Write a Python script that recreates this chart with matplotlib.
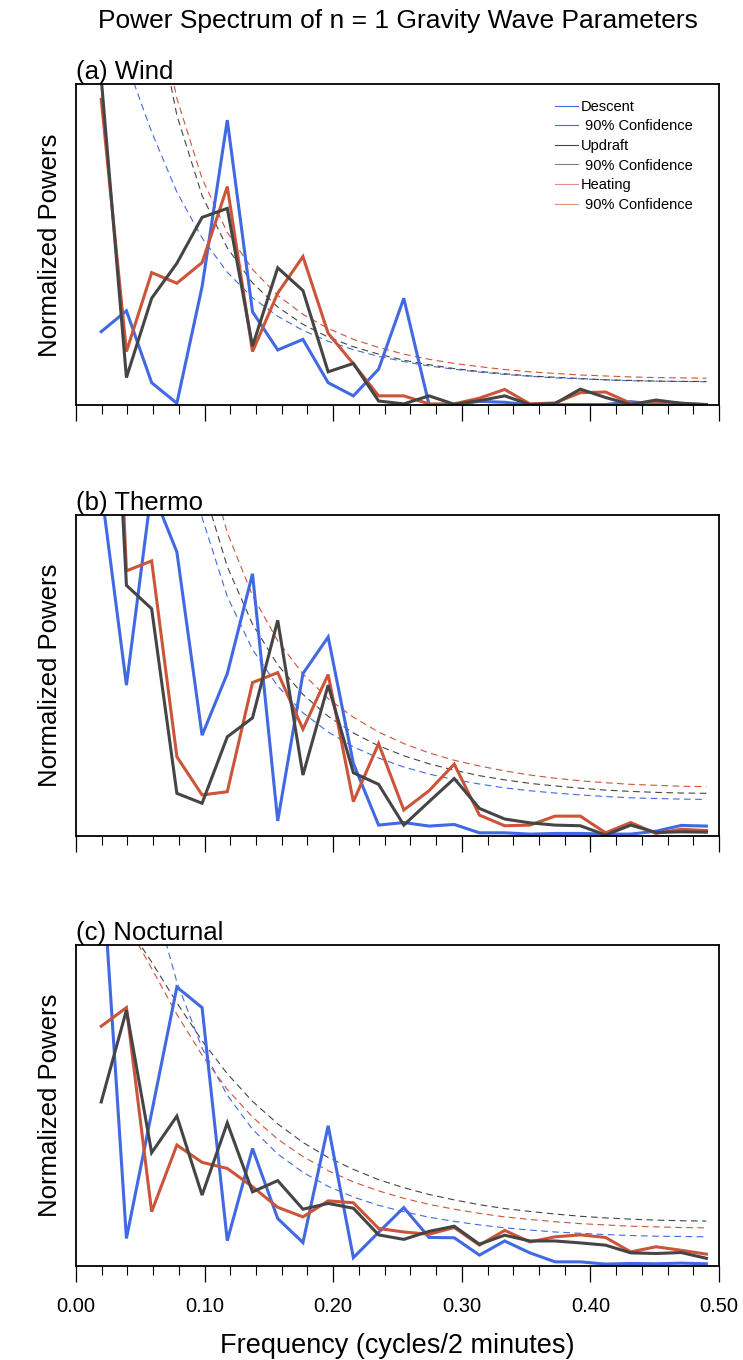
import numpy as np
import matplotlib
matplotlib.use("Agg")
import matplotlib.pyplot as plt
from matplotlib.lines import Line2D
from matplotlib.ticker import MultipleLocator

plt.rcParams['font.family'] = ['Liberation Sans', 'DejaVu Sans']

# spectral estimates at k/51, k = 1..25
freq = np.arange(1, 26) / 51.0

# (a) Wind
wind_descent = [0.230, 0.295, 0.071, 0.007, 0.370, 0.889, 0.292, 0.173, 0.206, 0.071, 0.030, 0.113, 0.334,
                0.003, 0.003, 0.013, 0.010, 0.002, 0.003, 0.003, 0.003, 0.012, 0.004, 0.002, 0.002]
wind_updraft = [1.02, 0.087, 0.334, 0.443, 0.586, 0.614, 0.185, 0.429, 0.358, 0.105, 0.131, 0.014, 0.005,
                0.030, 0.004, 0.015, 0.030, 0.003, 0.006, 0.051, 0.025, 0.003, 0.017, 0.007, 0.003]
wind_heating = [0.954, 0.168, 0.414, 0.381, 0.445, 0.682, 0.168, 0.350, 0.464, 0.225, 0.130, 0.030, 0.030,
                0.005, 0.005, 0.023, 0.050, 0.005, 0.008, 0.040, 0.042, 0.007, 0.010, 0.007, 0.002]
wind_descent_ci = [1.262, 1.069, 0.852, 0.665, 0.522, 0.415, 0.336, 0.278, 0.234, 0.200, 0.174, 0.153, 0.137,
                   0.123, 0.113, 0.104, 0.097, 0.091, 0.086, 0.083, 0.080, 0.077, 0.076, 0.075, 0.074]
wind_updraft_ci = [2.650, 1.906, 1.300, 0.904, 0.654, 0.491, 0.382, 0.307, 0.253, 0.213, 0.183, 0.160, 0.141,
                   0.127, 0.115, 0.106, 0.099, 0.092, 0.088, 0.084, 0.080, 0.078, 0.076, 0.075, 0.075]
wind_heating_ci = [2.440, 1.856, 1.331, 0.957, 0.707, 0.539, 0.424, 0.343, 0.284, 0.240, 0.206, 0.181, 0.160,
                   0.144, 0.131, 0.121, 0.112, 0.105, 0.100, 0.095, 0.092, 0.089, 0.087, 0.086, 0.085]

# (b) Thermo
thermo_descent = [1.08, 0.469, 1.08, 0.884, 0.313, 0.505, 0.816, 0.046, 0.505, 0.619, 0.225, 0.033, 0.041,
                  0.030, 0.035, 0.009, 0.009, 0.005, 0.007, 0.007, 0.005, 0.005, 0.014, 0.032, 0.030]
thermo_updraft = [2.30, 0.780, 0.707, 0.132, 0.101, 0.308, 0.367, 0.671, 0.189, 0.469, 0.196, 0.160, 0.033,
                  0.106, 0.178, 0.085, 0.052, 0.040, 0.033, 0.031, 0.002, 0.033, 0.010, 0.012, 0.011]
thermo_heating = [2.60, 0.825, 0.856, 0.246, 0.127, 0.137, 0.477, 0.508, 0.332, 0.502, 0.106, 0.287, 0.080,
                  0.140, 0.223, 0.064, 0.031, 0.033, 0.061, 0.061, 0.009, 0.041, 0.007, 0.020, 0.016]
thermo_descent_ci = [4.020, 2.890, 1.972, 1.372, 0.991, 0.745, 0.580, 0.466, 0.383, 0.323, 0.277, 0.242, 0.214,
                     0.192, 0.175, 0.161, 0.149, 0.140, 0.133, 0.127, 0.122, 0.118, 0.116, 0.114, 0.113]
thermo_updraft_ci = [3.790, 2.880, 2.067, 1.486, 1.098, 0.838, 0.659, 0.532, 0.440, 0.372, 0.320, 0.280, 0.249,
                     0.224, 0.204, 0.187, 0.174, 0.163, 0.155, 0.148, 0.142, 0.138, 0.135, 0.133, 0.132]
thermo_heating_ci = [3.830, 3.010, 2.223, 1.634, 1.226, 0.944, 0.748, 0.607, 0.504, 0.427, 0.369, 0.323, 0.287,
                     0.258, 0.235, 0.217, 0.202, 0.189, 0.179, 0.171, 0.165, 0.160, 0.157, 0.154, 0.153]

# (c) Nocturnal
noct_descent = [1.29, 0.085, 0.477, 0.868, 0.804, 0.078, 0.365, 0.147, 0.072, 0.436, 0.025, 0.104, 0.181,
                0.088, 0.087, 0.033, 0.077, 0.040, 0.012, 0.012, 0.005, 0.007, 0.006, 0.008, 0.006]
noct_updraft = [0.510, 0.796, 0.352, 0.466, 0.220, 0.445, 0.230, 0.265, 0.176, 0.194, 0.179, 0.096, 0.082,
                0.107, 0.123, 0.067, 0.095, 0.077, 0.077, 0.071, 0.064, 0.040, 0.038, 0.041, 0.023]
noct_heating = [0.746, 0.804, 0.168, 0.376, 0.322, 0.303, 0.246, 0.182, 0.152, 0.202, 0.196, 0.116, 0.105,
                0.098, 0.119, 0.064, 0.110, 0.074, 0.090, 0.096, 0.088, 0.043, 0.059, 0.048, 0.036]
noct_descent_ci = [1.850, 1.515, 1.166, 0.884, 0.678, 0.531, 0.425, 0.348, 0.291, 0.247, 0.214, 0.188, 0.168,
                   0.151, 0.138, 0.127, 0.118, 0.111, 0.105, 0.101, 0.097, 0.094, 0.092, 0.091, 0.090]
noct_updraft_ci = [1.154, 1.065, 0.946, 0.819, 0.701, 0.598, 0.512, 0.442, 0.384, 0.337, 0.300, 0.268, 0.243,
                   0.222, 0.205, 0.190, 0.178, 0.169, 0.161, 0.154, 0.149, 0.145, 0.142, 0.140, 0.139]
noct_heating_ci = [1.175, 1.067, 0.926, 0.783, 0.656, 0.549, 0.463, 0.394, 0.340, 0.296, 0.261, 0.233, 0.210,
                   0.191, 0.176, 0.163, 0.152, 0.144, 0.137, 0.131, 0.127, 0.123, 0.121, 0.119, 0.118]

panels = [
    ("(a) Wind", wind_descent, wind_updraft, wind_heating,
     wind_descent_ci, wind_updraft_ci, wind_heating_ci),
    ("(b) Thermo", thermo_descent, thermo_updraft, thermo_heating,
     thermo_descent_ci, thermo_updraft_ci, thermo_heating_ci),
    ("(c) Nocturnal", noct_descent, noct_updraft, noct_heating,
     noct_descent_ci, noct_updraft_ci, noct_heating_ci),
]

BLUE = "#4169e1"
GRAY = "#454545"
RED = "#cc5439"

fig = plt.figure(figsize=(7.43, 13.6), dpi=100)
left, width, height = 76 / 743, 643 / 743, 321 / 1360
bottoms = [1 - 405.5 / 1360, 1 - 835.7 / 1360, 1 - 1265.7 / 1360]

for i, (name, desc, upd, heat, desc_ci, upd_ci, heat_ci) in enumerate(panels):
    ax = fig.add_axes([left, bottoms[i], width, height])
    ax.plot(freq, desc_ci, color=BLUE, lw=0.8, dashes=(6, 4))
    ax.plot(freq, upd_ci, color=GRAY, lw=0.8, dashes=(6, 4))
    ax.plot(freq, heat_ci, color=RED, lw=0.8, dashes=(6, 4))
    ax.plot(freq, desc, color=BLUE, lw=2.2, solid_joinstyle="miter")
    ax.plot(freq, heat, color=RED, lw=2.2, solid_joinstyle="miter")
    ax.plot(freq, upd, color=GRAY, lw=2.2, solid_joinstyle="miter")

    ax.set_xlim(0, 0.5)
    ax.set_ylim(0, 1)
    ax.set_yticks([])
    ax.xaxis.set_major_locator(MultipleLocator(0.1))
    ax.xaxis.set_minor_locator(MultipleLocator(0.02))
    ax.tick_params(axis="x", which="major", direction="out", length=11.5, width=0.9, pad=11,
                   labelsize=14.5)
    ax.tick_params(axis="x", which="minor", direction="out", length=6.5, width=0.8)
    for s in ax.spines.values():
        s.set_linewidth(1.3)
    ax.set_ylabel("Normalized Powers", fontsize=18.5, labelpad=10)
    ax.set_title(name, loc="left", fontsize=18.5, pad=2)

    if i < 2:
        ax.tick_params(axis="x", labelbottom=False)
    else:
        ax.xaxis.set_major_formatter(lambda v, p: f"{v:.2f}")
        ax.set_xlabel("Frequency (cycles/2 minutes)", fontsize=19.5, labelpad=12)

    if i == 0:
        handles = [
            Line2D([], [], color=BLUE, lw=0.8),
            Line2D([], [], color=BLUE, lw=0.8),
            Line2D([], [], color=GRAY, lw=0.8),
            Line2D([], [], color="#808080", lw=0.8),
            Line2D([], [], color="#e0907f", lw=0.8),
            Line2D([], [], color="#e0907f", lw=0.8),
        ]
        labels = ["Descent", " 90% Confidence", "Updraft", " 90% Confidence",
                  "Heating", " 90% Confidence"]
        ax.legend(handles, labels, loc="upper left", bbox_to_anchor=(0.745, 0.952),
                  frameon=False, fontsize=10.5, handlelength=1.6, handletextpad=0.15,
                  labelspacing=0.38, borderpad=0, borderaxespad=0)

fig.text(397.5 / 743, 1 - 21 / 1360, "Power Spectrum of n = 1 Gravity Wave Parameters",
         ha="center", va="center", fontsize=19)

fig.savefig("out.png", dpi=100)
